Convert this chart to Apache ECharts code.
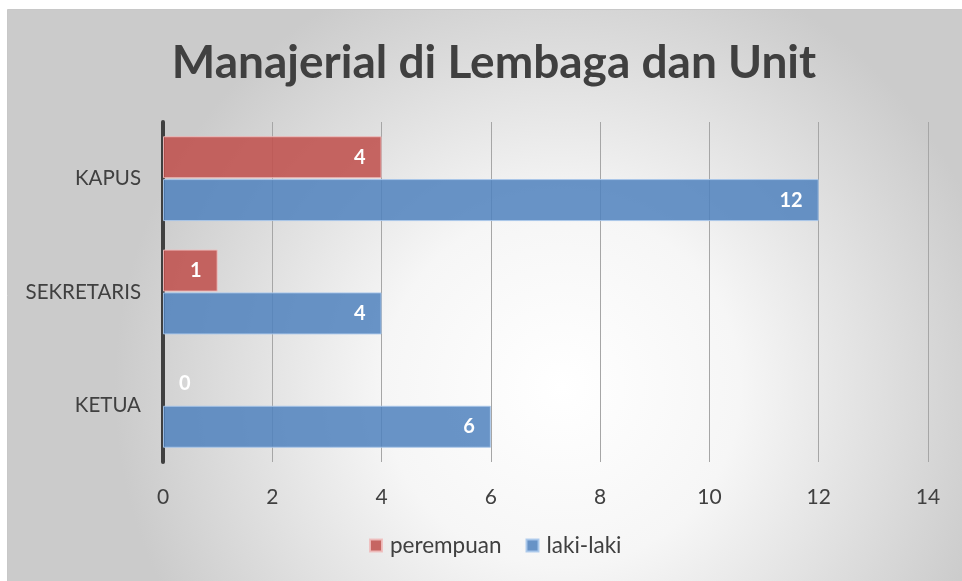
<!DOCTYPE html>
<html>
<head>
<meta charset="utf-8">
<script src="https://cdn.jsdelivr.net/npm/echarts@6/dist/echarts.min.js"></script>
<style>
html,body{margin:0;padding:0;background:#fff;}
#chart{width:962px;height:581px;}
</style>
</head>
<body>
<div id="chart"></div>
<script>
var categories = ['KETUA', 'SEKRETARIS', 'KAPUS'];
var perempuan = [0, 1, 4];
var lakiLaki = [6, 4, 12];
var xTicks = [0, 2, 4, 6, 8, 10, 12, 14];
var seriesNames = ['perempuan', 'laki-laki'];

var FONT = 'Lato';
var chart = echarts.init(document.getElementById('chart'), null, {renderer: 'canvas'});

function labelCfg() {
  return {
    show: true,
    position: 'insideRight',
    distance: 16,
    color: '#ffffff',
    fontFamily: FONT,
    fontWeight: 'bold',
    fontSize: 20
  };
}

var perData = perempuan.map(function (v) {
  if (v === 0) {
    return {value: v, itemStyle: {borderWidth: 0}, label: {position: 'right', distance: 16}};
  }
  return v;
});

var option = {
  backgroundColor: '#ffffff',
  animation: false,
  graphic: [{
    type: 'rect',
    left: 7, top: 9,
    shape: {width: 955, height: 572},
    z: -10,
    silent: true,
    style: {
      fill: {
        type: 'radial', x: 0.58, y: 0.66, r: 0.78,
        colorStops: [
          {offset: 0, color: '#ffffff'},
          {offset: 0.4, color: '#f6f6f6'},
          {offset: 1, color: '#cbcbcb'}
        ]
      },
      stroke: '#c8c8c8',
      lineWidth: 1
    }
  }],
  title: {
    text: 'Manajerial di Lembaga dan Unit',
    left: 489,
    textAlign: 'center',
    top: 35,
    textStyle: {
      fontFamily: FONT,
      fontWeight: 'bold',
      fontSize: 46,
      color: '#404040'
    }
  },
  legend: {
    data: seriesNames,
    bottom: 19,
    left: 364,
    itemWidth: 12,
    itemHeight: 12,
    itemGap: 24,
    icon: 'rect',
    textStyle: {fontFamily: FONT, fontSize: 22.5, color: '#404040', padding: [0, 0, 0, 3]}
  },
  grid: {
    left: 163, right: 34, top: 122, bottom: 119,
    containLabel: false
  },
  xAxis: {
    type: 'value',
    min: xTicks[0],
    max: xTicks[xTicks.length - 1],
    interval: 2,
    axisLine: {show: false},
    axisTick: {show: false},
    splitLine: {lineStyle: {color: '#a6a6a6', width: 1}},
    axisLabel: {
      margin: 25,
      fontFamily: FONT, fontSize: 21, color: '#404040'
    }
  },
  yAxis: {
    type: 'category',
    data: categories,
    axisLine: {show: true, lineStyle: {color: '#404040', width: 4}},
    axisTick: {show: false},
    axisLabel: {
      margin: 22,
      fontFamily: FONT, fontSize: 20.5, color: '#404040'
    }
  },
  series: [
    {
      name: 'perempuan',
      type: 'bar',
      data: perData,
      barWidth: 42,
      barGap: '2%',
      itemStyle: {color: 'rgba(192,80,77,0.87)', borderColor: 'rgba(240,190,190,0.9)', borderWidth: 1},
      label: labelCfg()
    },
    {
      name: 'laki-laki',
      type: 'bar',
      data: lakiLaki,
      barWidth: 42,
      barGap: '2%',
      itemStyle: {color: 'rgba(79,129,189,0.85)', borderColor: 'rgba(170,200,235,0.9)', borderWidth: 1},
      label: labelCfg()
    }
  ]
};
chart.setOption(option);
</script>
</body>
</html>
